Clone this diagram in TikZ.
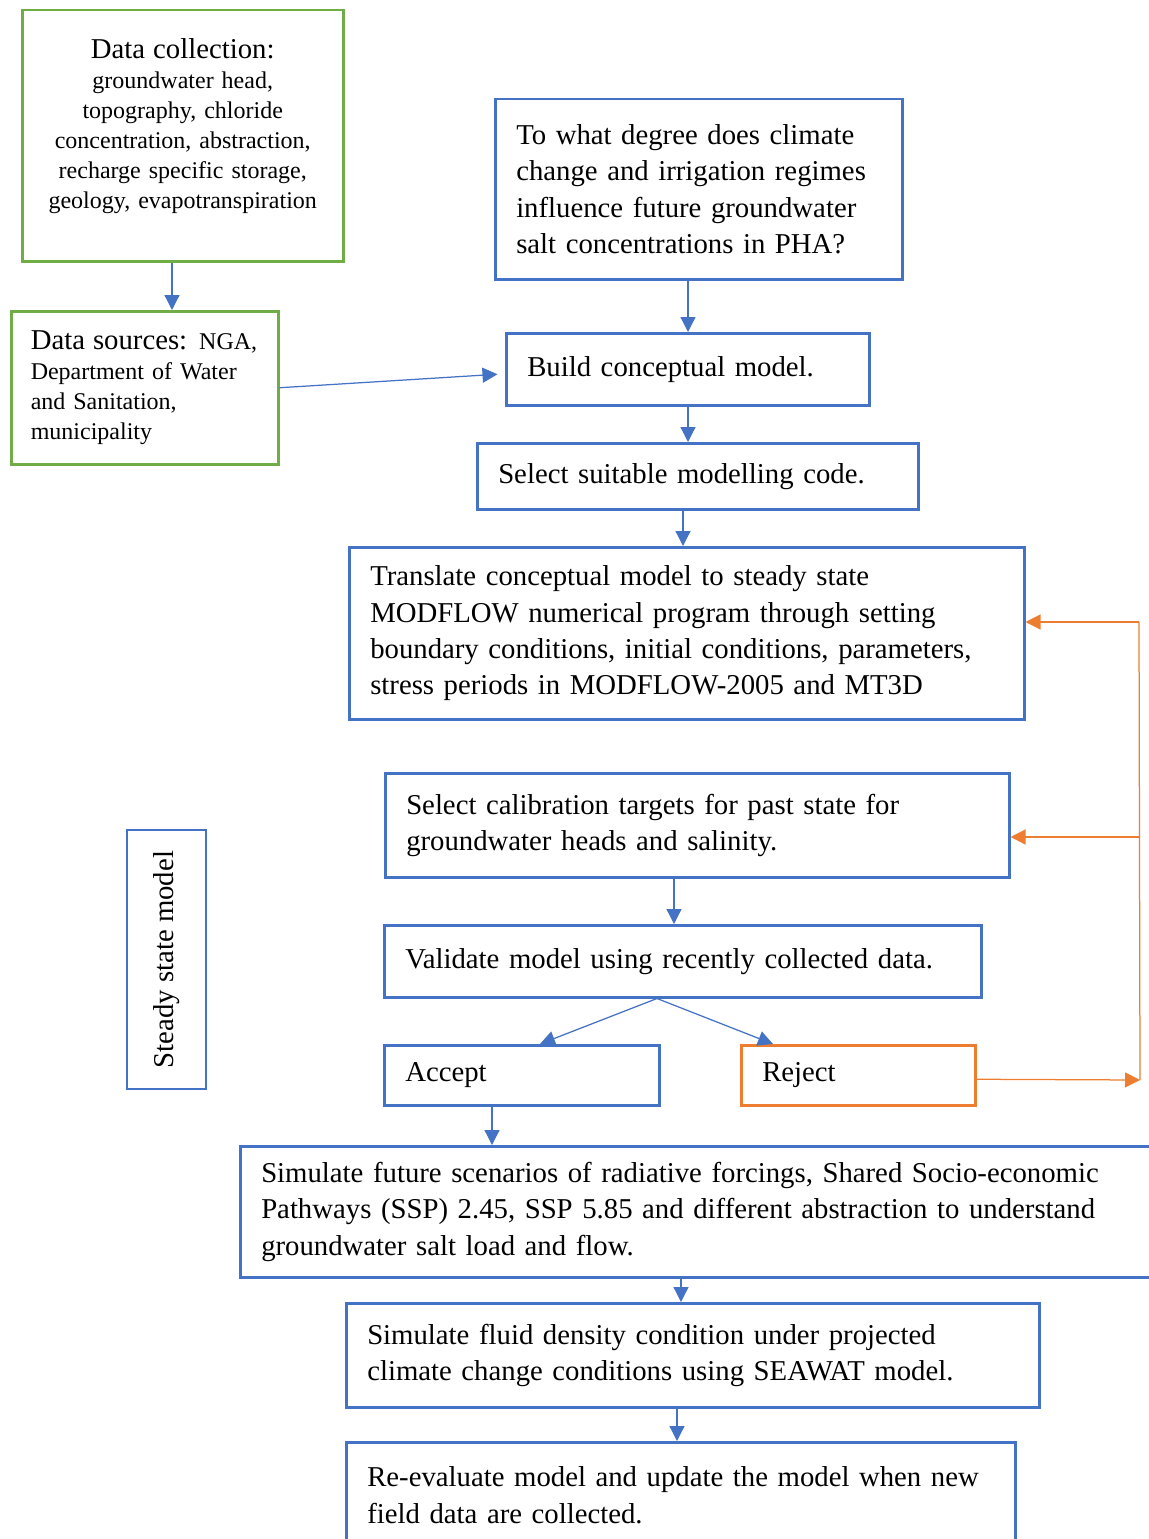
\documentclass[tikz,border=0pt]{standalone}
\usepackage{fontspec}
\setmainfont{Liberation Serif}
\usetikzlibrary{arrows.meta}
\definecolor{boxblue}{HTML}{4472C4}
\definecolor{boxgreen}{HTML}{70AD47}
\definecolor{boxorange}{HTML}{ED7D31}
\newcommand{\smalltext}{\fontsize{9.6}{12}\selectfont}
\newcommand{\headtext}{\fontsize{11.5}{12}\selectfont}
\begin{document}
\begin{tikzpicture}[x=0.4pt, y=-0.4pt,
    every node/.style={draw, line width=1pt, rectangle, anchor=north west, inner xsep=8.4pt, inner ysep=0pt, align=left, font=\fontsize{11.5}{14.5}\selectfont},
    bluebox/.style={draw=boxblue},
    greenbox/.style={draw=boxgreen, font=\smalltext},
    orangebox/.style={draw=boxorange},
    link/.style={draw=boxblue, line width=0.5pt, -{Triangle[length=6pt,width=6pt]}},
    orangelink/.style={draw=boxorange, line width=0.5pt, -{Triangle[length=6pt,width=6pt]}}]
  \useasboundingbox (0,0) rectangle (1148,1539);

  % data boxes
  \node[greenbox, minimum width=128.4pt, minimum height=100.4pt, text width=113pt, inner xsep=7.7pt, align=center] (dcoll) at (21,9)
    {{\headtext Data collection:}\\ groundwater head,\\ topography, chloride\\ concentration, abstraction,\\ recharge specific storage,\\ geology, evapotranspiration\\[-2pt]\mbox{}};
  \node[greenbox, minimum width=106.8pt, minimum height=61.2pt, text width=91.2pt, inner xsep=7.8pt] (dsrc) at (10,310)
    {\mbox{{\headtext Data sources:} NGA,}\\ Department of Water\\ and Sanitation,\\ municipality};

  % main flow
  \node[bluebox, minimum width=162.8pt, minimum height=72pt, text width=146pt] (quest) at (494,98)
    {To what degree does climate\\ change and irrigation regimes\\ influence future groundwater\\ salt concentrations in PHA?};
  \node[bluebox, minimum width=145.2pt, minimum height=28.8pt, text width=128.4pt] (build) at (505,332)
    {Build conceptual model.};
  \node[bluebox, minimum width=176.4pt, minimum height=26.4pt, text width=159.6pt] (code) at (476,442)
    {Select suitable modelling code.};
  \node[bluebox, minimum width=270pt, minimum height=68.8pt, text width=253.2pt] (transl) at (348,546)
    {Translate conceptual model to steady state\\ MODFLOW numerical program through setting\\ boundary conditions, initial conditions, parameters,\\ stress periods in MODFLOW-2005 and MT3D};
  \node[bluebox, minimum width=249.6pt, minimum height=41.6pt, text width=232.8pt] (calib) at (384,772)
    {Select calibration targets for past state for\\ groundwater heads and salinity.};
  \node[bluebox, minimum width=238.8pt, minimum height=28.8pt, text width=222pt] (valid) at (383,924)
    {Validate model using recently collected data.};
  \node[bluebox, minimum width=110pt, minimum height=24pt, text width=93.2pt] (accept) at (383,1044)
    {Accept};
  \node[orangebox, minimum width=93.6pt, minimum height=24pt, text width=76.8pt] (reject) at (740,1044)
    {Reject};
  \node[bluebox, rotate=90, anchor=center, minimum width=103.6pt, minimum height=31.6pt] (steady) at (166.5,959.5)
    {Steady state model};
  \node[bluebox, minimum width=366.8pt, minimum height=52.4pt, text width=350pt] (future) at (239,1145)
    {Simulate future scenarios of radiative forcings, Shared Socio-economic\\ Pathways (SSP) 2.45, SSP 5.85 and different abstraction to understand\\ groundwater salt load and flow.};
  \node[bluebox, minimum width=277.2pt, minimum height=41.6pt, text width=260.4pt] (fluid) at (345,1302)
    {Simulate fluid density condition under projected\\ climate change conditions using SEAWAT model.};
  \node[bluebox, minimum width=267.6pt, minimum height=42.4pt, text width=250.8pt] (reeval) at (345,1441)
    {Re-evaluate model and update the model when new\\ field data are collected.};

  % connectors
  \draw[link] (172,0 |- dcoll.south) -- (172,0 |- dsrc.north);
  \draw[link] (dsrc.east) -- ([xshift=-3pt,yshift=-2pt]build.west);
  \draw[link] (688,0 |- quest.south) -- (688,0 |- build.north);
  \draw[link] (688,0 |- build.south) -- (688,0 |- code.north);
  \draw[link] (683,0 |- code.south) -- (683,0 |- transl.north);
  \draw[link] (674,0 |- calib.south) -- (674,0 |- valid.north);
  \draw[link] (657,0 |- valid.south) -- (540,0 |- accept.north);
  \draw[link] (657,0 |- valid.south) -- (773,0 |- reject.north);
  \draw[link] (492,0 |- accept.south) -- (492,0 |- future.north);
  \draw[link] (681,0 |- future.south) -- (681,0 |- fluid.north);
  \draw[link] (677,0 |- fluid.south) -- (677,0 |- reeval.north);

  % reject loop
  \coordinate (looptop) at (1139,622);
  \coordinate (loopmid) at (1139,837);
  \coordinate (loopbot) at (1140,1080);
  \draw[orangelink] ([yshift=-1.6pt]reject.east) -- (loopbot);
  \draw[boxorange, line width=0.5pt] (loopbot) -- (looptop);
  \draw[orangelink] (looptop) -- (looptop -| transl.east);
  \draw[orangelink] (loopmid) -- (loopmid -| calib.east);
\end{tikzpicture}
\end{document}
